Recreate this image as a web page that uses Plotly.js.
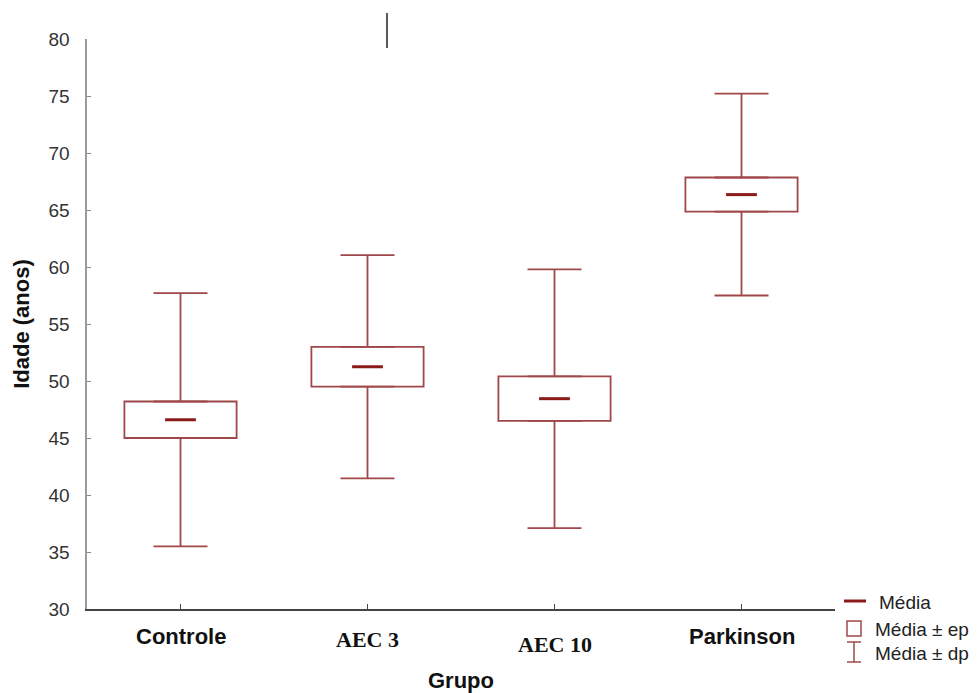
<!DOCTYPE html>
<html>
<head>
<meta charset="utf-8">
<script src="https://cdn.plot.ly/plotly-3.0.1.min.js"></script>
<style>html,body{margin:0;padding:0;background:#fff;}#chart{width:977px;height:693px;}</style>
</head>
<body>
<div id="chart"></div>
<script>
// ---- data ----
const groups = ['Controle', 'AEC 3', 'AEC 10', 'Parkinson'];
const media  = [46.6, 51.25, 48.45, 66.35];   // Média
const ep     = [1.6, 1.75, 1.95, 1.5];        // erro padrão
const dp     = [11.1, 9.8, 11.35, 8.85];      // desvio padrão
const yTicks = [30, 35, 40, 45, 50, 55, 60, 65, 70, 75, 80];
const legendLabels = ['Média', 'Média ± ep', 'Média ± dp'];

// ---- style ----
const boxColor = '#a0474a';
const meanColor = '#8b1a1a';
const sans = 'Liberation Sans, Arial, Helvetica, sans-serif';
const serif = 'Liberation Serif, Times New Roman, serif';

const xs = groups.map((g, i) => i);
const spread = dp.map((d, i) => d - ep[i]);
const zeros = groups.map(() => 0);

const traces = [
  { // box: média ± ep
    type: 'bar', x: xs,
    base: media.map((m, i) => m - ep[i]),
    y: ep.map(e => 2 * e),
    width: 0.6,
    marker: { color: '#ffffff', line: { color: boxColor, width: 1.8 } },
    hoverinfo: 'skip', showlegend: false
  },
  { // upper whisker
    type: 'scatter', mode: 'markers', x: xs,
    y: media.map((m, i) => m + ep[i]),
    marker: { size: 1, opacity: 0 },
    error_y: { type: 'data', symmetric: false, array: spread, arrayminus: zeros,
               width: 27, thickness: 1.8, color: boxColor },
    hoverinfo: 'skip', showlegend: false
  },
  { // lower whisker
    type: 'scatter', mode: 'markers', x: xs,
    y: media.map((m, i) => m - ep[i]),
    marker: { size: 1, opacity: 0 },
    error_y: { type: 'data', symmetric: false, array: zeros, arrayminus: spread,
               width: 27, thickness: 1.8, color: boxColor },
    hoverinfo: 'skip', showlegend: false
  },
  { // mean
    type: 'scatter', mode: 'markers', x: xs, y: media,
    marker: { symbol: 'line-ew', size: 22, color: meanColor, line: { color: meanColor, width: 3 } },
    hoverinfo: 'skip', showlegend: false
  }
];

// pixel -> paper helpers for legend decoration
const L = 87, R = 835, T = 39, B = 609;
const px = x => (x - L) / (R - L);
const py = y => (B - y) / (B - T);

const shapes = [
  { type: 'line', xref: 'paper', yref: 'paper', x0: px(844), x1: px(866), y0: py(601), y1: py(601),
    line: { color: meanColor, width: 3 } },
  { type: 'rect', xref: 'paper', yref: 'paper', x0: px(847), x1: px(861), y0: py(621), y1: py(636),
    line: { color: boxColor, width: 1.5 }, fillcolor: 'rgba(0,0,0,0)' },
  { type: 'line', xref: 'paper', yref: 'paper', x0: px(847), x1: px(861), y0: py(642), y1: py(642),
    line: { color: boxColor, width: 1.5 } },
  { type: 'line', xref: 'paper', yref: 'paper', x0: px(854), x1: px(854), y0: py(642), y1: py(662),
    line: { color: boxColor, width: 1.5 } },
  { type: 'line', xref: 'paper', yref: 'paper', x0: px(847), x1: px(861), y0: py(662), y1: py(662),
    line: { color: boxColor, width: 1.5 } },
  { // text cursor mark at top
    type: 'line', xref: 'paper', yref: 'paper', x0: px(387), x1: px(387), y0: py(13), y1: py(48),
    line: { color: '#222', width: 1.5 } }
];

const catFonts = [sans, serif, serif, sans];
const catShift = [-27, -30, -35, -27];
const annotations = groups.map((g, i) => ({
  x: i, xref: 'x', y: 0, yref: 'paper', yanchor: 'middle', xanchor: 'center',
  yshift: catShift[i], showarrow: false,
  text: '<b>' + g + '</b>',
  font: { family: catFonts[i], size: 22, color: '#111' }
}));
const legY = [602, 629, 653];
const legX = [877, 873, 873];
legendLabels.forEach((t, i) => annotations.push({
  x: px(legX[i]), xref: 'paper', y: py(legY[i]), yref: 'paper',
  xanchor: 'left', yanchor: 'middle', showarrow: false, text: t,
  font: { family: sans, size: 19, color: '#222' }
}));

const layout = {
  width: 977, height: 693,
  margin: { l: L, r: 977 - R, t: T, b: 693 - B },
  paper_bgcolor: '#fff', plot_bgcolor: '#fff',
  font: { family: sans, color: '#222', size: 19 },
  showlegend: false,
  bargap: 0,
  xaxis: {
    range: [-0.5, 3.5], tickvals: xs, showticklabels: false,
    ticks: 'inside', ticklen: 5, tickwidth: 1, tickcolor: '#444',
    showline: true, linecolor: '#444', linewidth: 1.5,
    showgrid: false, zeroline: false, fixedrange: true,
    title: { text: '<b>Grupo</b>', font: { size: 22, color: '#111' }, standoff: 63 }
  },
  yaxis: {
    range: [30, 80], tickvals: yTicks, ticktext: yTicks.map(String),
    ticks: 'inside', ticklen: 4, tickwidth: 1, tickcolor: '#888',
    ticklabelstandoff: 11,
    tickfont: { size: 19, color: '#333' },
    showline: true, linecolor: '#9a9a9a', linewidth: 2.5,
    showgrid: false, zeroline: false, fixedrange: true,
    title: { text: '<b>Idade (anos)</b>', font: { size: 22, color: '#111' }, standoff: 13 }
  },
  shapes: shapes,
  annotations: annotations
};

Plotly.newPlot('chart', traces, layout, { displayModeBar: false, staticPlot: true });
</script>
</body>
</html>
